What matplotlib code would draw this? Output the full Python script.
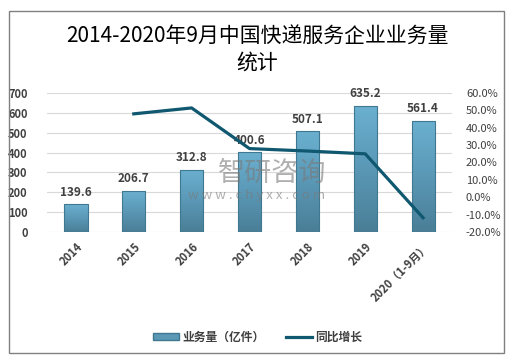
import matplotlib
matplotlib.use("Agg")
import matplotlib.pyplot as plt
import numpy as np
from matplotlib.patches import Rectangle, Patch
from matplotlib.lines import Line2D
from matplotlib.colors import LinearSegmentedColormap

plt.rcParams['font.family'] = ['Noto Sans CJK SC', 'DejaVu Sans']

categories = ['2014', '2015', '2016', '2017', '2018', '2019', '2020（1-9月）']
volume = [139.6, 206.7, 312.8, 400.6, 507.1, 635.2, 561.4]
growth_cats = ['2015', '2016', '2017', '2018', '2019', '2020（1-9月）']
growth = [48.0, 51.4, 28.0, 26.6, 25.0, -11.8]
left_ticks = [0, 100, 200, 300, 400, 500, 600, 700]
right_ticks = [-20, -10, 0, 10, 20, 30, 40, 50, 60]

fig = plt.figure(figsize=(5.15, 3.63), dpi=100)
fig.patches.append(Rectangle((9/515, 1-353/363), 495/515, 342/363, transform=fig.transFigure,
                             fill=False, edgecolor='#808080', linewidth=1.0))

ax = fig.add_axes([47/515, 1-232/363, 405/515, 139/363])
x = list(range(len(categories)))
bars = ax.bar(x, volume, width=0.40, color='none', edgecolor='#3f7890', linewidth=0.8, zorder=3)
cmap = LinearSegmentedColormap.from_list('bg', ['#4a7e96', '#5a98b6', '#6bb0d0'])
grad = np.linspace(0, 1, 256).reshape(-1, 1)
for b in bars:
    im = ax.imshow(grad, extent=(b.get_x(), b.get_x() + b.get_width(), 0, b.get_height()),
                   origin='lower', cmap=cmap, aspect='auto', zorder=2)
    im.set_clip_path(b)
for xi, v in zip(x, volume):
    ax.annotate(f'{v:.1f}', (xi, v), xytext=(0, 8.8), textcoords='offset points',
                ha='center', va='center', fontsize=8.5, fontweight='bold', color='#404040', zorder=5)
ax.set_ylim(0, 700)
ax.set_yticks(left_ticks)
ax.set_xlim(-0.5, len(categories) - 0.5)
ax.grid(axis='y', color='#d9d9d9', linewidth=0.8, zorder=0)
ax.set_axisbelow(True)
for s in ax.spines.values():
    s.set_visible(False)
ax.tick_params(axis='both', length=0)
ax.tick_params(axis='y', labelsize=8, labelcolor='#404040', pad=14)
for lab in ax.get_yticklabels():
    lab.set_fontweight('bold')
ax.set_xticks(x)
ax.set_xticklabels(categories, rotation=45, ha='right', rotation_mode='anchor',
                   fontsize=8, fontweight='bold', color='#404040')
ax.tick_params(axis='x', pad=6)

ax2 = ax.twinx()
gx = [categories.index(c) for c in growth_cats]
ax2.plot(gx, growth, color='#0f5870', linewidth=2.3, zorder=4)
ax2.set_ylim(-20, 60)
ax2.set_yticks(right_ticks)
ax2.set_yticklabels([f'{t:.1f}%' for t in right_ticks])
ax2.tick_params(axis='y', length=0, labelsize=8, labelcolor='#404040', pad=10)
for s in ax2.spines.values():
    s.set_visible(False)

fig.text(0.5, 1-36/363, '2014-2020年9月中国快递服务企业业务量', ha='center', va='center',
         fontsize=15, color='#000000')
fig.text(0.5, 1-63/363, '统计', ha='center', va='center', fontsize=15, color='#000000')

# watermark
fig.text(272/515, 1-173/363, '智研咨询', ha='center', va='center', fontsize=19.5,
         color='#7a7a7a', alpha=0.6, zorder=10)
fig.text(257/515, 1-196/363, 'w w w . c h y x x . c o m', ha='center', va='center', fontsize=9.5,
         color='#7a7a7a', alpha=0.6, zorder=10)

handles = [Patch(facecolor='#5a98b6', edgecolor='#3f7890'),
           Line2D([0], [0], color='#0f5870', linewidth=2.3)]
fig.legend(handles, ['业务量（亿件）', '同比增长'], loc='center', bbox_to_anchor=(0.5, 1-337/363),
           ncol=2, frameon=False, prop={'size': 8.5, 'weight': 'bold'}, handlelength=2.2,
           handleheight=0.6, columnspacing=1.8, handletextpad=0.3, labelcolor='#404040')

fig.savefig('out.png', dpi=100)
